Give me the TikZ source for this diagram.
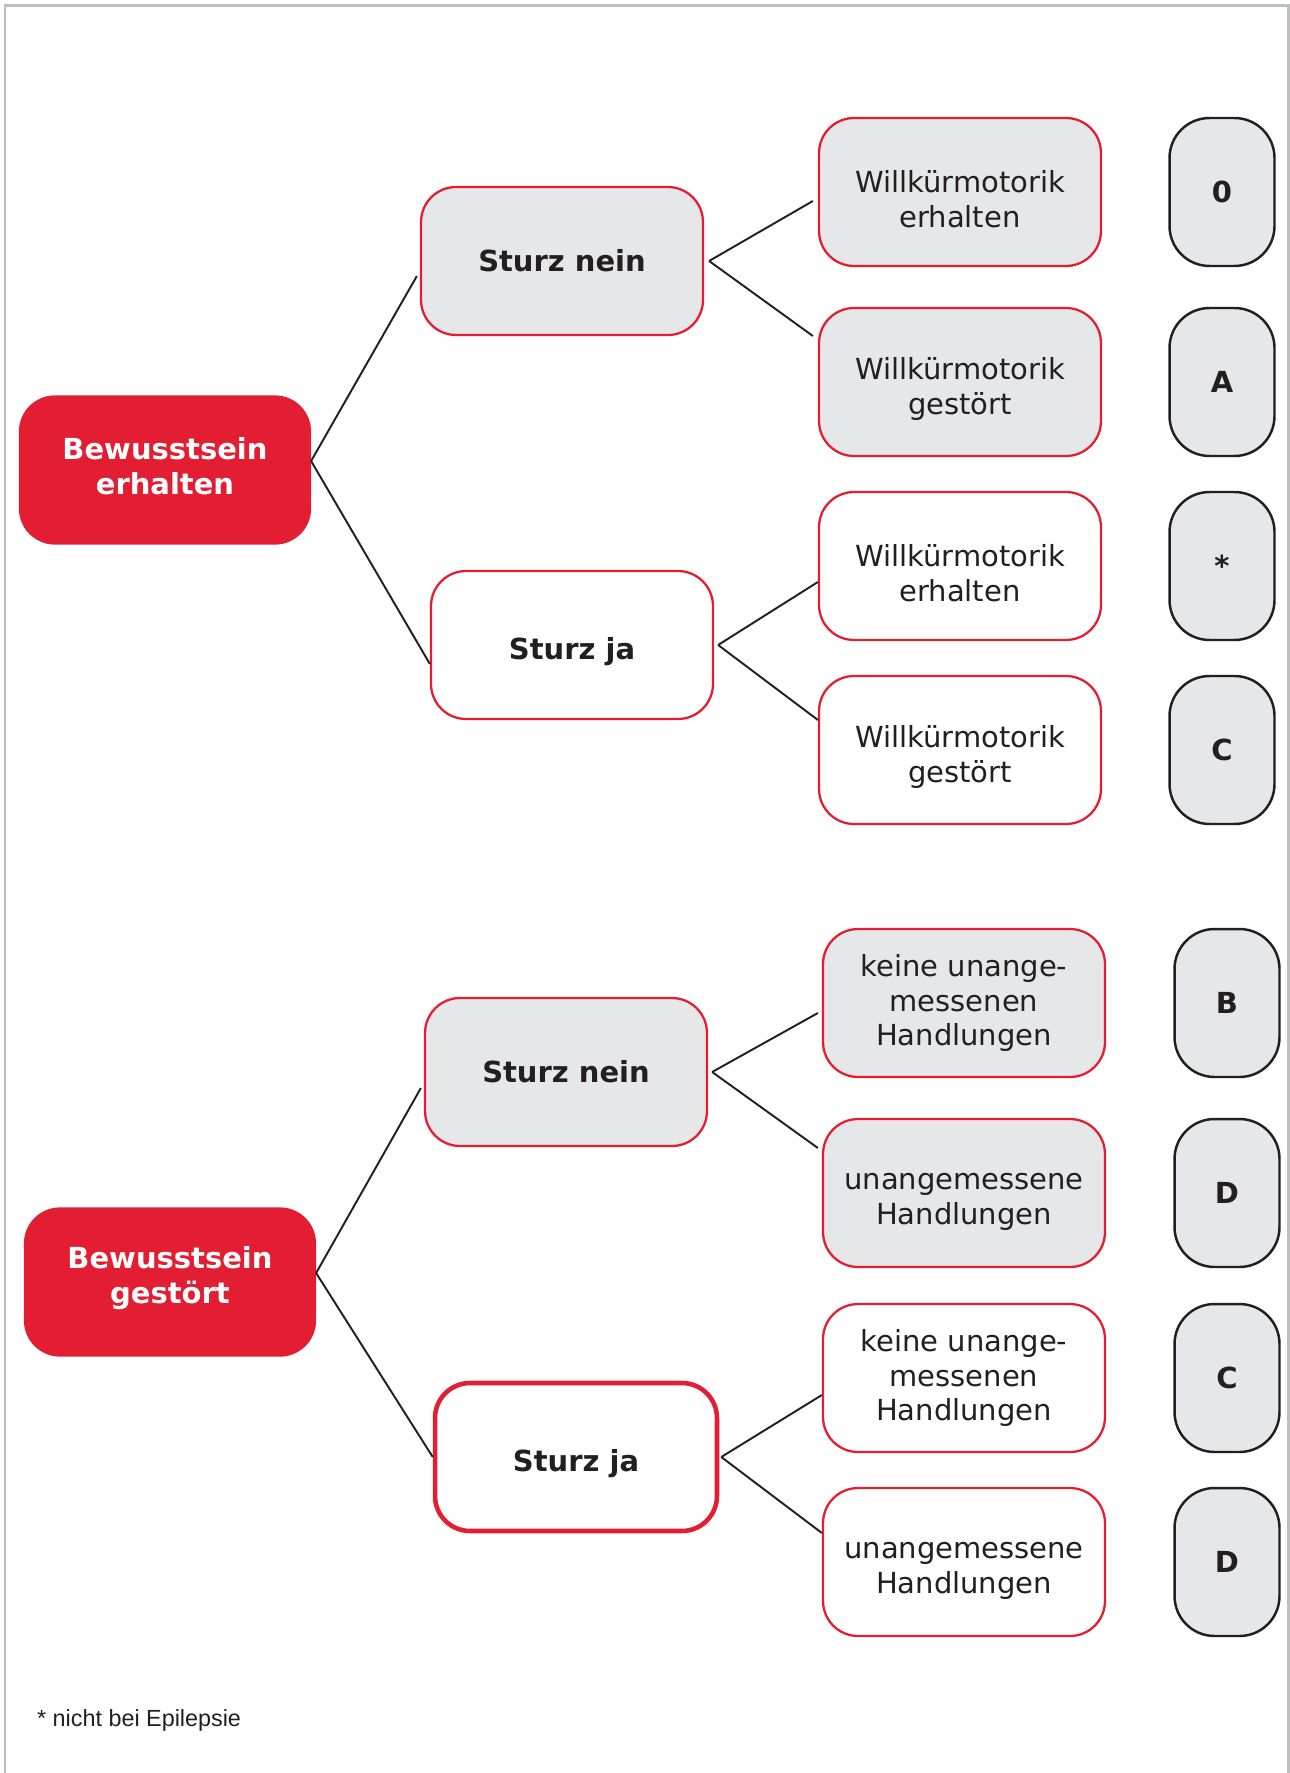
\documentclass[tikz,border=0pt]{standalone}
\usepackage{fontspec}
\setmainfont{DejaVu Sans}
\newfontfamily\footfont{Liberation Sans}
\definecolor{rot}{RGB}{228,30,50}
\definecolor{hell}{RGB}{230,231,232}
\definecolor{dunkel}{RGB}{35,31,32}
\definecolor{rahmen}{RGB}{190,191,193}
\newcommand{\boxfont}{\fontsize{16.5}{19.8}\selectfont}
\newcommand{\tief}[2][4pt]{\raisebox{-#1}[\height][\depth]{#2}}

\begin{document}
\begin{tikzpicture}[x=0.02cm,y=-0.02cm,inner sep=1pt,
  feld/.style={draw=rot,line width=1.3pt,rounded corners=0.7cm,minimum width=5.64cm,minimum height=2.96cm,align=center,text=dunkel,font=\boxfont},
  nein/.style={feld,fill=hell},
  ja/.style={feld,fill=white},
  bew/.style={feld,fill=rot,text=white,font=\boxfont\bfseries,minimum width=5.8cm,minimum height=2.94cm},
  klasse/.style={draw=dunkel,fill=hell,line width=1.4pt,rounded corners=0.8cm,minimum width=2.1cm,minimum height=2.96cm,text=dunkel,font=\boxfont\bfseries},
  ast/.style={draw=dunkel,line width=1.1pt}]
\useasboundingbox (0,0) rectangle (1290,1773);
\draw[rahmen,line width=1.7pt] (5,1773) -- (5,6) -- (1288,6) -- (1288,1773);
%
\node[bew] (e1) at (165,470) {\tief[-2pt]{Bewusstsein}\\\tief[-2pt]{erhalten}};
\node[nein,font=\boxfont\bfseries] (n1) at (562,261) {Sturz nein};
\node[ja,font=\boxfont\bfseries] (j1) at (572,645) {\tief{Sturz ja}};
\node[nein] (w1) at (960,192) {\tief{Willkürmotorik}\\\tief{erhalten}};
\node[nein] (w2) at (960,382) {\tief{Willkürmotorik}\\\tief{gestört}};
\node[ja] (w3) at (960,566) {\tief{Willkürmotorik}\\\tief{erhalten}};
\node[ja] (w4) at (960,750) {\tief{Willkürmotorik}\\\tief{gestört}};
\node[klasse] (k1) at (1222,192) {0};
\node[klasse] (k2) at (1222,382) {A};
\node[klasse] (k3) at (1222,566) {*};
\node[klasse] (k4) at (1222,750) {C};
%
\node[bew] (e2) at (170,1282) {\tief[-2pt]{Bewusstsein}\\\tief[-2pt]{gestört}};
\node[nein,font=\boxfont\bfseries] (n2) at (566,1072) {Sturz nein};
\node[ja,font=\boxfont\bfseries,line width=2.6pt] (j2) at (576,1457) {\tief{Sturz ja}};
\node[nein] (h1) at (964,1003) {keine unange-\\messenen\\Handlungen};
\node[nein] (h2) at (964,1193) {\tief[5pt]{unangemessene}\\\tief[5pt]{Handlungen}};
\node[ja] (h3) at (964,1378) {keine unange-\\messenen\\Handlungen};
\node[ja] (h4) at (964,1562) {\tief[5pt]{unangemessene}\\\tief[5pt]{Handlungen}};
\node[klasse] (k5) at (1227,1003) {B};
\node[klasse] (k6) at (1227,1193) {D};
\node[klasse] (k7) at (1227,1378) {C};
\node[klasse] (k8) at (1227,1562) {D};
%
\node[anchor=west,text=dunkel,font=\footfont\fontsize{13.3}{16}\selectfont] (fn) at (35,1720) {* nicht bei Epilepsie};
%
\draw[ast] ([yshift=.18cm]e1.east) -- ([xshift=-.06cm,yshift=-.3cm]n1.west) ([yshift=.18cm]e1.east) -- ([yshift=-.38cm]j1.west)
  ([xshift=.1cm]n1.east) -- ([xshift=-.1cm,yshift=-.18cm]w1.west) ([xshift=.1cm]n1.east) -- ([xshift=-.1cm,yshift=.92cm]w2.west)
  ([xshift=.08cm]j1.east) -- ([yshift=-.32cm]w3.west) ([xshift=.08cm]j1.east) -- ([yshift=.6cm]w4.west);
\draw[ast] ([yshift=.18cm]e2.east) -- ([xshift=-.06cm,yshift=-.32cm]n2.west) ([yshift=.18cm]e2.east) -- (j2.west)
  ([xshift=.08cm]n2.east) -- ([xshift=-.08cm,yshift=-.2cm]h1.west) ([xshift=.08cm]n2.east) -- ([xshift=-.08cm,yshift=.9cm]h2.west)
  ([xshift=.04cm]j2.east) -- ([yshift=-.34cm]h3.west) ([xshift=.04cm]j2.east) -- ([yshift=.58cm]h4.west);
\end{tikzpicture}
\end{document}
